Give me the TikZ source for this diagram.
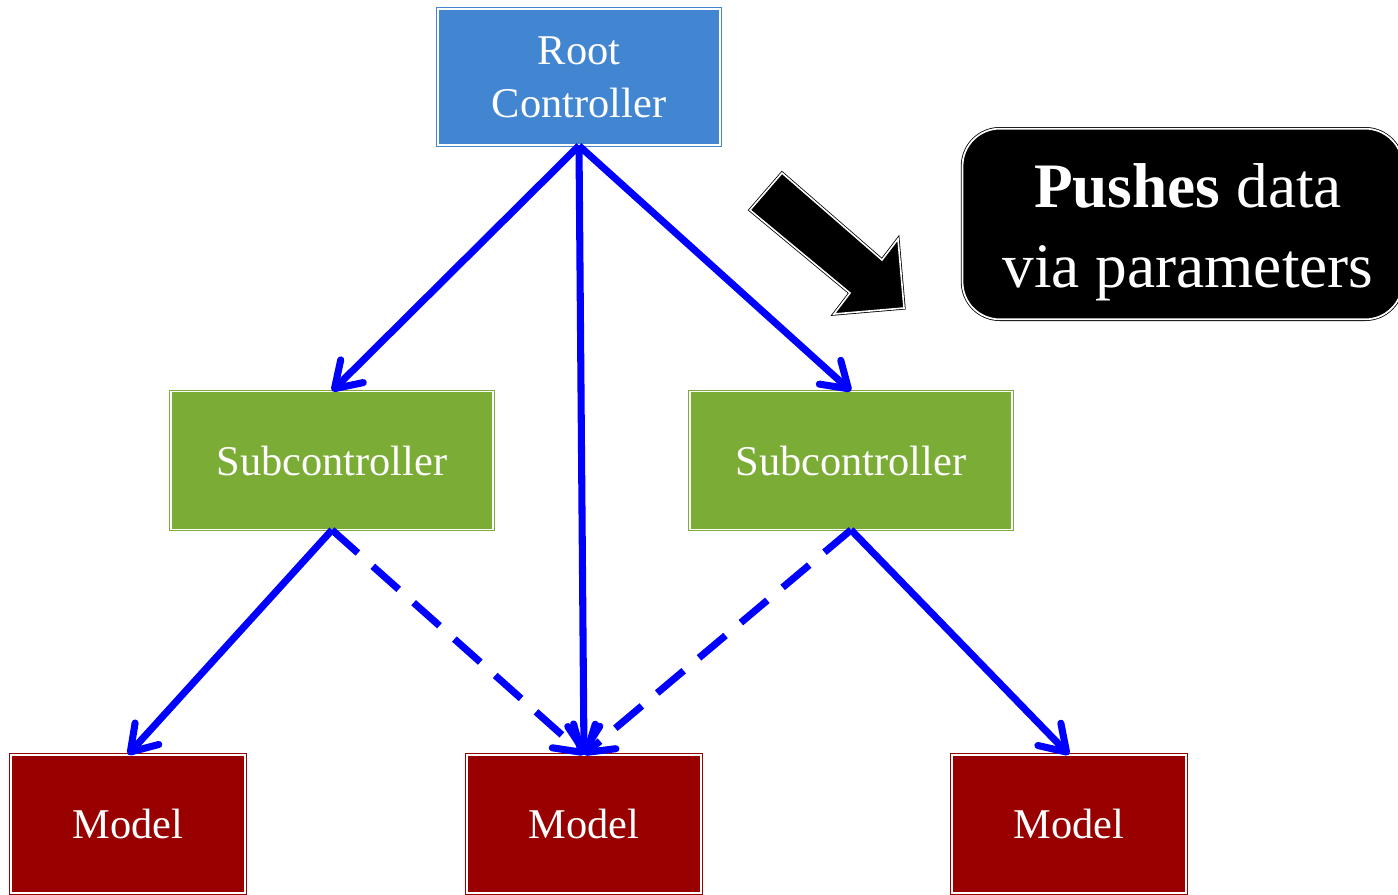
\documentclass[tikz,border=0pt]{standalone}
\usepackage{fontspec}
\setmainfont{Liberation Serif}
\usetikzlibrary{arrows.meta}
\definecolor{rootblue}{RGB}{66,133,208}
\definecolor{subgreen}{RGB}{122,172,54}
\definecolor{modelred}{RGB}{153,0,0}
\definecolor{linkblue}{RGB}{0,0,255}

\begin{document}
\begin{tikzpicture}[x=0.75pt,y=-0.75pt,
  box/.style={draw=#1, fill=#1, double=white, double distance=1.3pt,
    line width=0.6pt, inner sep=0pt, text=white, align=center,
    font=\fontsize{31.8}{40}\selectfont},
  rootbox/.style={box=rootblue, minimum width=212pt, minimum height=102.5pt},
  subbox/.style={box=subgreen, minimum width=241.5pt, minimum height=103.5pt},
  modelbox/.style={box=modelred, minimum width=176pt, minimum height=103.5pt},
  notebox/.style={box=black, rounded corners=28pt, minimum width=330pt,
    minimum height=143pt},
  notetext/.style={inner sep=0pt, text=white, align=center,
    font=\fontsize{47.5}{60}\selectfont},
  link/.style={draw=linkblue, line width=5.3pt,
    -{Straight Barb[length=18.5pt,width=24pt,round]}},
  weaklink/.style={link, line cap=butt, dash pattern=on 26pt off 15pt},
  bigarrow/.style={draw=black, fill=black, double=white, double distance=1.2pt,
    line width=0.6pt, line join=miter}
]
\useasboundingbox (0,0) rectangle (1398,894);
\clip (0,0) rectangle (1398,894);

% controllers and models
\node[rootbox]  (root) at (579,77)    {Root\\Controller};
\node[subbox]   (subL) at (332,460.5) {Subcontroller};
\node[subbox]   (subR) at (851,460.5) {Subcontroller};
\node[modelbox] (modL) at (128,824)   {Model};
\node[modelbox] (modM) at (584,824)   {Model};
\node[modelbox] (modR) at (1069,824)  {Model};

% callout box and its caption
\node[notebox] (note) at (1182.5,224) {};
\node[notetext] (notecap) at (1188,232) {\textbf{Pushes} data\\via parameters};

% block arrow pointing at the callout's subject
\draw[bigarrow] (782,173) -- (750,210) -- (850,293) -- (834,314)
  -- (904,308) -- (898,239) -- (882,260) -- cycle;

% data flow
\draw[link] (root.south) -- (subL.north);
\draw[link] (root.south) -- (modM.north);
\draw[link] (root.south) -- (subR.north);
\draw[link] (subL.south) -- (modL.north);
\draw[weaklink] (subL.south) -- (modM.north);
\draw[weaklink] (subR.south) -- (modM.north);
\draw[link] (subR.south) -- (modR.north);
\end{tikzpicture}
\end{document}
